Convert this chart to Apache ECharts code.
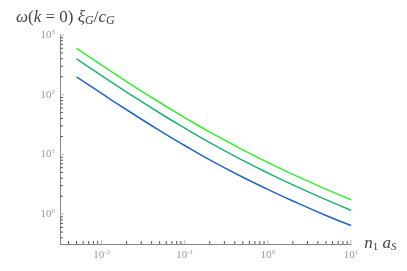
<!DOCTYPE html>
<html>
<head>
<meta charset="utf-8">
<script src="https://cdn.jsdelivr.net/npm/echarts@6/dist/echarts.min.js"></script>
<style>html,body{margin:0;padding:0;background:#fff}#c{width:407px;height:271px}</style>
</head>
<body>
<div id="c"></div>
<script>
// Data (log-log plot)
var xValues = [0.005, 0.01, 0.02, 0.05, 0.1, 0.2, 0.5, 1, 2, 5, 10];
var seriesBright = [598, 313, 166, 74.1, 41.4, 23.7, 11.9, 7.33, 4.63, 2.62, 1.74];
var seriesMid    = [399, 209, 111, 49.4, 27.6, 15.8, 7.94, 4.89, 3.09, 1.75, 1.16];
var seriesBlue   = [199, 105, 56, 25, 14.1, 8.1, 4.15, 2.6, 1.66, 0.95, 0.645];
var xTickDecades = [-2, -1, 0, 1];
var yTickDecades = [0, 1, 2, 3];
var xRangeLog = [-2.5, 1];
var yRangeLog = [-0.5, 3];

function lg(v){ return Math.log10(v); }
function pairs(ys){ return xValues.map(function(x,i){ return [lg(x), lg(ys[i])]; }); }

function minorTicks(lo, hi){
  var out = [];
  for (var k = Math.floor(lo) - 1; k <= Math.ceil(hi); k++) {
    for (var m = 1; m <= 9; m++) {
      var v = k + Math.log10(m);
      if (v >= lo - 1e-9 && v <= hi + 1e-9) out.push([v, m === 1 ? 1 : 0]);
    }
  }
  return out;
}

var serif = 'Liberation Serif, DejaVu Serif, serif';
function powLabel(v){
  if (Math.abs(v - Math.round(v)) > 1e-6) return '';
  return '{b|10}{s|' + Math.round(v) + '}';
}
var labelRich = {
  b: {fontFamily: serif, fontSize: 11, color: '#999'},
  s: {fontFamily: serif, fontSize: 7, color: '#999', verticalAlign: 'top', padding: [0,0,6,0]}
};

var chart = echarts.init(document.getElementById('c'), null, {renderer: 'canvas'});
chart.setOption({
  animation: false,
  backgroundColor: '#fff',
  title: {
    left: 11, top: 4,
    text: '{i|ω}{n|(}{i|k}{n| = 0) }{i|ξ}{sub|G}{n|/}{i|c}{sub|G}',
    textStyle: {
      fontWeight: 'normal',
      rich: {
        i: {fontFamily: serif, fontStyle: 'italic', fontWeight: 'normal', fontSize: 17, color: '#444'},
        n: {fontFamily: serif, fontWeight: 'normal', fontSize: 17, color: '#444'},
        sub: {fontFamily: serif, fontStyle: 'italic', fontWeight: 'normal', fontSize: 12, color: '#444', verticalAlign: 'bottom', padding: [6,0,0,0]}
      }
    }
  },
  grid: {left: 60, right: 56, top: 35, bottom: 27, containLabel: false},
  xAxis: {
    type: 'value', min: xRangeLog[0], max: xRangeLog[1], interval: 0.5,
    name: '{i|n}{subn|1}{n| }{i|a}{sub|S}',
    nameLocation: 'end', nameGap: 9,
    nameTextStyle: {
      verticalAlign: 'middle',
      rich: {
        i: {fontFamily: serif, fontStyle: 'italic', fontSize: 17, color: '#444'},
        n: {fontFamily: serif, fontSize: 17, color: '#444'},
        subn: {fontFamily: serif, fontSize: 11, color: '#444', verticalAlign: 'bottom', padding: [6,0,0,0]},
        sub: {fontFamily: serif, fontSize: 11, fontStyle: 'italic', color: '#444', verticalAlign: 'bottom', padding: [6,0,0,0]}
      }
    },
    axisLine: {onZero: false, lineStyle: {color: '#888', width: 1}},
    axisTick: {show: false},
    splitLine: {show: false},
    axisLabel: {formatter: powLabel, rich: labelRich, margin: 5}
  },
  yAxis: {
    type: 'value', min: yRangeLog[0], max: yRangeLog[1], interval: 0.5,
    axisLine: {show: true, onZero: false, lineStyle: {color: '#888', width: 1}},
    axisTick: {show: false},
    splitLine: {show: false},
    axisLabel: {formatter: powLabel, rich: labelRich, margin: 5}
  },
  series: [
    {
      type: 'custom', silent: true, clip: false, z: 1,
      data: minorTicks(xRangeLog[0], xRangeLog[1]),
      renderItem: function(params, api){
        var v = api.value(0), major = api.value(1) === 1;
        var p = api.coord([v, yRangeLog[0]]);
        var len = major ? 4 : 3;
        return {type: 'line', shape: {x1: p[0], y1: p[1], x2: p[0], y2: p[1] - len},
          style: {stroke: major ? '#bbb' : '#555', lineWidth: 1}};
      }
    },
    {
      type: 'custom', silent: true, clip: false, z: 1,
      data: minorTicks(yRangeLog[0], yRangeLog[1]).map(function(d){ return [xRangeLog[0], d[0], d[1]]; }),
      encode: {x: 0, y: 1},
      renderItem: function(params, api){
        var v = api.value(1), major = api.value(2) === 1;
        var p = api.coord([xRangeLog[0], v]);
        var len = major ? 4 : 3;
        return {type: 'line', shape: {x1: p[0], y1: p[1], x2: p[0] + len, y2: p[1]},
          style: {stroke: major ? '#bbb' : '#555', lineWidth: 1}};
      }
    },
    {type: 'line', data: pairs(seriesBlue), smooth: true, showSymbol: false,
      lineStyle: {color: '#2166c2', width: 1.5}, z: 3},
    {type: 'line', data: pairs(seriesMid), smooth: true, showSymbol: false,
      lineStyle: {color: '#1db272', width: 1.5}, z: 3},
    {type: 'line', data: pairs(seriesBright), smooth: true, showSymbol: false,
      lineStyle: {color: '#33ee33', width: 1.5}, z: 3}
  ]
});
</script>
</body>
</html>
